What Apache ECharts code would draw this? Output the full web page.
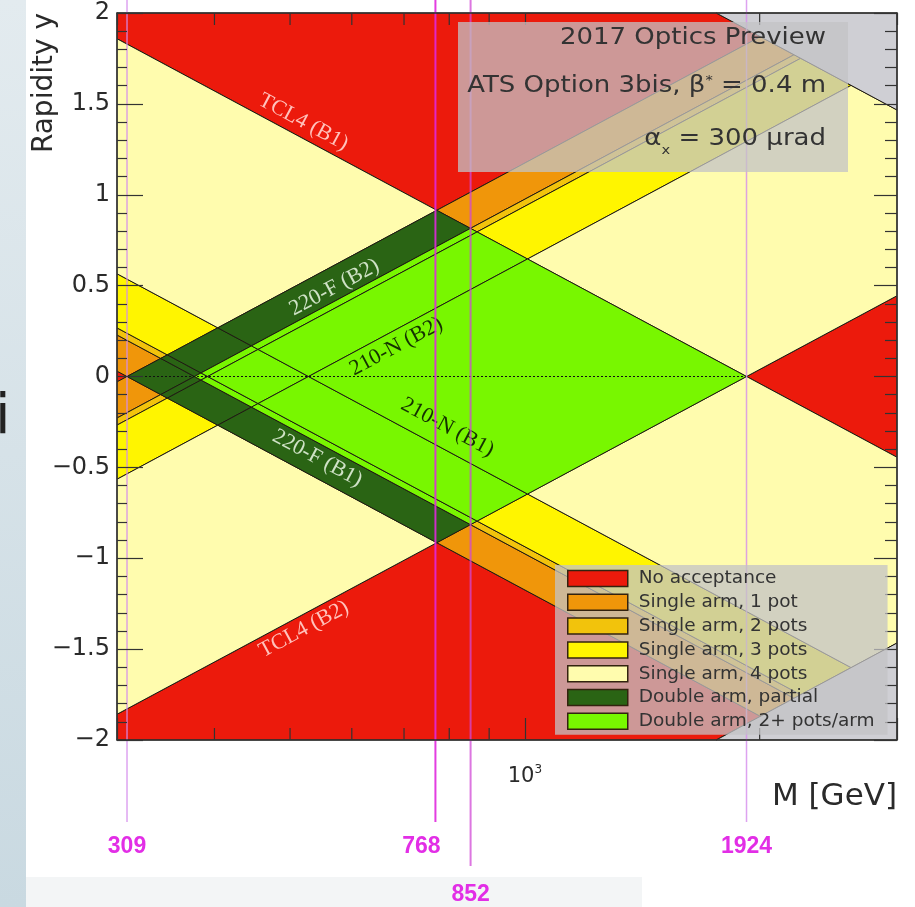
<!DOCTYPE html>
<html>
<head>
<meta charset="utf-8">
<script src="https://cdn.jsdelivr.net/npm/echarts@6/dist/echarts.min.js"></script>
<style>
  html, body { margin: 0; padding: 0; background: #ffffff; }
  #chart { width: 915px; height: 907px; }
</style>
</head>
<body>
<div id="chart"></div>
<script>
// Roman-pot acceptance in the (M, y) plane for central production at 13 TeV.
// A proton of arm B1 carries xi*sqrt(s) = M*e^{+y}, one of arm B2 carries M*e^{-y}.

// Thresholds (GeV) of xi*sqrt(s) above which each pot of an arm sees the proton
const potThresholds = [309, 377, 392, 528];
// Protons with xi*sqrt(s) above this are intercepted by the TCL4 collimator
const tcl4Limit = 1924;
// Kinematic limit xi = 1
const sqrtS = 13000;

const massRange = [300, 3000];
const rapidityRange = [-2, 2];
const rapidityTickStep = 0.5;

const categoryNames = [
  'No acceptance',
  'Single arm, 1 pot',
  'Single arm, 2 pots',
  'Single arm, 3 pots',
  'Single arm, 4 pots',
  'Double arm, partial',
  'Double arm, 2+ pots/arm'
];
const categoryColors = ['#ec1a0c', '#f0960a', '#f2c30c', '#fff500', '#fffcae', '#2a6414', '#78f700'];
const outOfRangeColor = '#cfcfd4';

// Extra (minor) tick values on the mass axis
const massMinorTicks = [400, 500, 600, 700, 800, 900, 2000];

// Masses where acceptance edges cross: marked below the plot
const markerMasses = [309, 768, 852, 1924];

// Curve labels, anchored in data space; dir = +1 rising curve (B2), -1 falling curve (B1)
const curveLabels = [
  { text: 'TCL4 (B1)', M: 520, y: 1.40, dir: -1, tone: 'tcl' },
  { text: 'TCL4 (B2)', M: 521, y: -1.39, dir: 1, tone: 'tcl' },
  { text: '220-F (B2)', M: 570, y: 0.49, dir: 1, tone: 'far' },
  { text: '220-F (B1)', M: 542, y: -0.45, dir: -1, tone: 'far' },
  { text: '210-N (B2)', M: 684, y: 0.165, dir: 1, tone: 'near' },
  { text: '210-N (B1)', M: 796, y: -0.28, dir: -1, tone: 'near' }
];

// ---------------------------------------------------------------------------
// Build the acceptance cells. In a = ln M + y, b = ln M - y every
// combination of pot counts is a rectangle, i.e. a diamond in (ln M, y).
const S0 = Math.log(massRange[0]), S1 = Math.log(massRange[1]);
const lnEdges = [0].concat(potThresholds.map(Math.log), [Math.log(tcl4Limit), Math.log(sqrtS), 20]);

function potsSeen(k) { return k <= potThresholds.length ? k : 0; }

function category(k, j) {
  const nA = potsSeen(k), nB = potsSeen(j);
  if (!nA && !nB) return 0;
  if (!nA || !nB) return Math.max(nA, nB);
  return Math.min(nA, nB) >= 2 ? 6 : 5;
}

function clipHalf(pts, axis, bound, keepAbove) {
  const out = [];
  for (let i = 0; i < pts.length; i++) {
    const p = pts[i], q = pts[(i + 1) % pts.length];
    const pin = keepAbove ? p[axis] >= bound : p[axis] <= bound;
    const qin = keepAbove ? q[axis] >= bound : q[axis] <= bound;
    if (pin) out.push(p);
    if (pin !== qin) {
      const t = (bound - p[axis]) / (q[axis] - p[axis]);
      out.push([p[0] + t * (q[0] - p[0]), p[1] + t * (q[1] - p[1])]);
    }
  }
  return out;
}

function diamond(a0, a1, b0, b1) {
  let pts = [[a0, b0], [a1, b0], [a1, b1], [a0, b1]].map(([a, b]) => [(a + b) / 2, (a - b) / 2]);
  pts = clipHalf(pts, 0, S0, true);
  pts = clipHalf(pts, 0, S1, false);
  pts = clipHalf(pts, 1, rapidityRange[0], true);
  pts = clipHalf(pts, 1, rapidityRange[1], false);
  return pts.map(([s, y]) => [Math.exp(s), y]);
}

const cells = [];
function addCell(cat, poly) {
  if (poly.length < 3) return;
  let m = 0, yy = 0;
  poly.forEach(p => { m += Math.log(p[0]); yy += p[1]; });
  cells.push({ cat, poly, ref: [Math.exp(m / poly.length), yy / poly.length] });
}
for (let k = 0; k < 6; k++) {
  for (let j = 0; j < 6; j++) {
    addCell(category(k, j), diamond(lnEdges[k], lnEdges[k + 1], lnEdges[j], lnEdges[j + 1]));
  }
}
// beyond the kinematic limit in either arm
addCell(7, diamond(lnEdges[6], lnEdges[7], lnEdges[0], lnEdges[7]));
addCell(7, diamond(lnEdges[0], lnEdges[6], lnEdges[6], lnEdges[7]));

function cellSeries(cat, name, color) {
  return {
    type: 'custom',
    name: name,
    z: 2,
    encode: { x: 0, y: 1 },
    itemStyle: { color: color },
    data: cells.map((c, i) => [c.ref[0], c.ref[1], i]).filter(d => cells[d[2]].cat === cat),
    renderItem: function (params, api) {
      const cell = cells[api.value(2)];
      return {
        type: 'polygon',
        shape: { points: cell.poly.map(p => api.coord(p)) },
        style: { fill: color, stroke: '#1f1a12', lineWidth: 1 }
      };
    },
    silent: true
  };
}

const series = categoryNames.map((n, i) => cellSeries(i, n, categoryColors[i]));
series.push(cellSeries(7, 'out of range', outOfRangeColor));

// y = 0 reference line across the double-arm region
series.push({
  type: 'line',
  z: 3,
  symbol: 'none',
  silent: true,
  data: [[massRange[0], 0], [tcl4Limit, 0]],
  lineStyle: { color: '#111', width: 1.2, type: [2, 2] }
});

// curve labels
const toneColor = { tcl: '#ffc2bc', far: '#cfe2c6', near: '#143200' };
series.push({
  type: 'custom',
  z: 3,
  silent: true,
  encode: { x: 0, y: 1 },
  data: curveLabels.map((l, i) => [l.M, l.y, i]),
  renderItem: function (params, api) {
    const l = curveLabels[api.value(2)];
    const p1 = api.coord([l.M, l.y]);
    const p2 = api.coord([l.M * Math.E, l.y + l.dir]);
    const rot = Math.atan2(-(p2[1] - p1[1]), p2[0] - p1[0]);
    return {
      type: 'text',
      x: p1[0], y: p1[1], rotation: rot,
      style: {
        text: l.text,
        font: '22px "Liberation Serif", "DejaVu Serif", serif',
        fill: toneColor[l.tone],
        align: 'center', verticalAlign: 'middle'
      }
    };
  }
});

// minor ticks of the mass axis (bottom and top frame)
series.push({
  type: 'custom',
  z: 6,
  silent: true,
  clip: false,
  encode: { x: 0, y: 1 },
  data: massMinorTicks.map(v => [v, 0]),
  renderItem: function (params, api) {
    const b = api.coord([api.value(0), rapidityRange[0]]);
    const t = api.coord([api.value(0), rapidityRange[1]]);
    const st = { stroke: '#333', lineWidth: 1.2 };
    return {
      type: 'group',
      children: [
        { type: 'line', shape: { x1: b[0], y1: b[1], x2: b[0], y2: b[1] - 12 }, style: st },
        { type: 'line', shape: { x1: t[0], y1: t[1], x2: t[0], y2: t[1] + 12 }, style: st }
      ]
    };
  }
});

// mass markers with their values below the plot
const markerStyles = [
  { color: 'rgba(212,140,236,0.8)', width: 1.5, bottom: 822, labelY: 847, dx: 0 },
  { color: 'rgba(224,40,222,0.9)', width: 2, bottom: 822, labelY: 847, dx: -14 },
  { color: 'rgba(208,72,214,0.75)', width: 2, bottom: 866, labelY: 895, dx: 0 },
  { color: 'rgba(212,140,236,0.8)', width: 1.5, bottom: 822, labelY: 847, dx: 0 }
];
series.push({
  type: 'custom',
  z: 4,
  silent: true,
  clip: false,
  encode: { x: 0, y: 1 },
  data: markerMasses.map((m, i) => [m, 0, i]),
  renderItem: function (params, api) {
    const i = api.value(2);
    const st = markerStyles[i];
    const x = api.coord([api.value(0), 0])[0];
    return {
      type: 'group',
      children: [
        { type: 'line', shape: { x1: x, y1: 0, x2: x, y2: st.bottom }, style: { stroke: st.color, lineWidth: st.width } },
        {
          type: 'text', x: x + st.dx, y: st.labelY,
          style: {
            text: String(markerMasses[i]),
            font: 'bold 23px "Liberation Sans", Arial, sans-serif',
            fill: '#e22ee6', align: 'center', verticalAlign: 'middle'
          }
        }
      ]
    };
  }
});

const axisLineStyle = { color: '#333', width: 1.5 };
const tickStyle = { color: '#333', width: 1.2 };
const font = '"DejaVu Sans", sans-serif';

const option = {
  backgroundColor: '#ffffff',
  animation: false,
  grid: { left: 117, right: 18, top: 13, bottom: 167, containLabel: false },
  xAxis: [
    {
      type: 'log', logBase: 10, min: massRange[0], max: massRange[1],
      position: 'bottom', z: 6,
      axisLine: { show: true, onZero: false, lineStyle: axisLineStyle },
      axisTick: { show: true, inside: true, length: 22, lineStyle: tickStyle },
      splitLine: { show: false },
      axisLabel: {
        show: true, margin: 24,
        fontFamily: font, fontSize: 21, color: '#2a2a2a', lineHeight: 26,
        formatter: v => (Math.abs(v - 1000) < 1e-6 ? '10{e|3}' : ''),
        rich: { e: { fontFamily: font, fontSize: 12, lineHeight: 12, verticalAlign: 'top', color: '#2a2a2a' } }
      }
    },
    {
      type: 'log', logBase: 10, min: massRange[0], max: massRange[1],
      position: 'top', z: 6,
      axisLine: { show: true, onZero: false, lineStyle: axisLineStyle },
      axisTick: { show: true, inside: true, length: 12, lineStyle: tickStyle },
      splitLine: { show: false },
      axisLabel: { show: false }
    }
  ],
  yAxis: [
    {
      type: 'value', min: rapidityRange[0], max: rapidityRange[1], interval: rapidityTickStep,
      position: 'left', z: 6,
      axisLine: { show: true, onZero: false, lineStyle: axisLineStyle },
      axisTick: { show: true, inside: true, length: 26, lineStyle: tickStyle },
      minorTick: { show: true, splitNumber: 5, length: 10, lineStyle: tickStyle },
      splitLine: { show: false },
      axisLabel: {
        margin: 7, fontFamily: font, fontSize: 24, color: '#2a2a2a',
        formatter: v => (v < 0 ? '\u2212' + (-v) : String(v))
      }
    },
    {
      type: 'value', min: rapidityRange[0], max: rapidityRange[1], interval: rapidityTickStep,
      position: 'right', z: 6,
      axisLine: { show: true, onZero: false, lineStyle: axisLineStyle },
      axisTick: { show: true, inside: true, length: 23, lineStyle: tickStyle },
      minorTick: { show: true, splitNumber: 5, length: 12, lineStyle: tickStyle },
      splitLine: { show: false },
      axisLabel: { show: false }
    }
  ],
  legend: {
    orient: 'vertical', left: 555, top: 565, z: 10,
    padding: [4, 13, 4, 12], itemGap: 4.8, itemWidth: 60, itemHeight: 16,
    backgroundColor: 'rgba(195,195,198,0.75)',
    selectedMode: false,
    textStyle: { fontFamily: font, fontSize: 18.5, color: '#333', lineHeight: 16, padding: [0, 0, 0, 6] },
    data: categoryNames.map((n, i) => ({
      name: n, icon: 'rect',
      itemStyle: { color: categoryColors[i], borderColor: '#33230f', borderWidth: 1.5 }
    }))
  },
  graphic: {
    elements: [
      {
        type: 'rect', silent: true, z: 0,
        shape: { x: 0, y: 0, width: 26, height: 907 },
        style: { fill: new echarts.graphic.LinearGradient(0, 0, 0, 1, [
          { offset: 0, color: '#e3ebef' }, { offset: 1, color: '#c9d9e1' }]) }
      },
      { type: 'rect', silent: true, z: 0, shape: { x: 26, y: 877, width: 616, height: 30 }, style: { fill: '#f3f5f6' } },
      { type: 'text', silent: true, z: 1, x: -5, y: 446,
        style: { text: 'i', font: '56px "DejaVu Sans", sans-serif', fill: '#222', align: 'left', verticalAlign: 'bottom' } },
      { type: 'text', silent: true, z: 1, x: 45, y: 13, rotation: Math.PI / 2,
        style: { text: 'Rapidity y', font: '28px "DejaVu Sans", sans-serif', fill: '#2a2a2a', align: 'right', verticalAlign: 'middle' } },
      { type: 'text', silent: true, z: 1, x: 897, y: 797,
        style: { text: 'M [GeV]', font: '31px "DejaVu Sans", sans-serif', fill: '#2a2a2a', align: 'right', verticalAlign: 'middle' } },
      { type: 'rect', silent: true, z: 10,
        shape: { x: 458, y: 22, width: 390, height: 150 }, style: { fill: 'rgba(195,195,198,0.75)' } },
      { type: 'text', silent: true, z: 11, x: 826, y: 38, scaleX: 1.13,
        style: { text: '2017 Optics Preview', font: '23px "DejaVu Sans", sans-serif', fill: '#333', align: 'right', verticalAlign: 'middle' } },
      { type: 'text', silent: true, z: 11, x: 826, y: 86, scaleX: 1.13,
        style: {
          text: '{n|ATS Option 3bis, \u03b2}{s|*}{n| = 0.4 m}', align: 'right', verticalAlign: 'middle',
          rich: {
            n: { font: '23px "DejaVu Sans", sans-serif', fill: '#333', lineHeight: 28 },
            s: { font: '13px "DejaVu Sans", sans-serif', fill: '#333', lineHeight: 28, verticalAlign: 'top', padding: [2, 0, 0, 0] }
          }
        } },
      { type: 'text', silent: true, z: 11, x: 826, y: 139, scaleX: 1.13,
        style: {
          text: '{n|\u03b1}{s|x}{n| = 300 \u03bcrad}', align: 'right', verticalAlign: 'middle',
          rich: {
            n: { font: '23px "DejaVu Sans", sans-serif', fill: '#333', lineHeight: 28 },
            s: { font: '13px "DejaVu Sans", sans-serif', fill: '#333', lineHeight: 28, verticalAlign: 'bottom', padding: [0, 0, -4, 0] }
          }
        } }
    ]
  },
  series: series
};

const chart = echarts.init(document.getElementById('chart'), null, { renderer: 'canvas' });
chart.setOption(option);
</script>
</body>
</html>
